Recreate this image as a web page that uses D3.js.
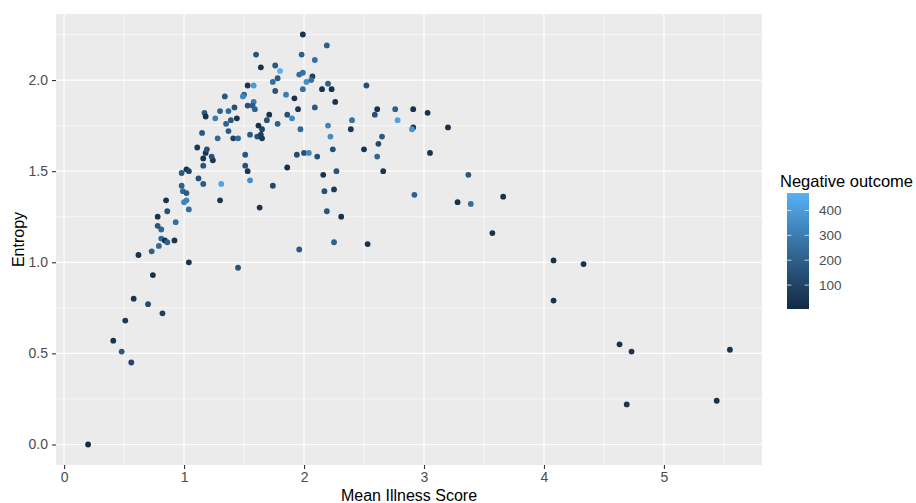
<!DOCTYPE html>
<html>
<head>
<meta charset="utf-8">
<script src="https://cdn.jsdelivr.net/npm/d3@7"></script>
<style>
  body { margin: 0; background: #fff; }
  text { font-family: "Liberation Sans", Arial, sans-serif; }
</style>
</head>
<body>
<div id="chart"></div>
<script>
// values
const illness = [0.20,0.41,0.48,0.56,0.51,0.58,0.70,0.82,0.74,0.62,
  0.73,0.79,0.81,0.84,0.86,0.92,0.81,0.78,0.78,0.93,
  0.86,0.85,1.04,1.45,0.98,1.02,1.04,1.12,1.16,0.98,
  0.99,1.02,1.00,1.02,1.04,1.31,1.30,1.16,1.16,1.24,
  1.23,1.18,1.19,1.11,1.15,1.28,1.37,1.41,1.45,1.35,
  1.26,1.17,1.18,1.30,1.37,1.39,1.42,1.44,1.34,1.51,
  1.51,1.53,1.55,1.63,1.74,1.55,1.61,1.65,1.64,1.65,
  1.62,1.69,1.71,1.78,1.53,1.58,1.57,1.59,1.50,1.49,
  1.53,1.58,1.60,1.64,1.76,1.80,1.78,1.74,1.76,1.85,
  1.92,1.86,1.90,1.95,1.97,1.86,1.94,2.00,2.04,2.11,
  1.99,2.19,1.98,2.09,1.96,1.99,2.07,2.02,2.06,2.20,
  2.15,2.23,1.99,2.26,2.09,2.20,2.22,2.40,2.39,2.52,
  2.61,2.59,2.76,2.78,2.91,3.03,2.91,2.90,3.20,2.65,
  2.62,2.50,2.61,2.66,3.05,2.24,2.16,2.27,2.25,2.17,
  2.19,2.31,1.96,2.25,2.53,2.92,3.37,3.28,3.39,3.66,
  3.57,4.08,4.33,4.08,4.63,4.73,5.55,4.69,5.44];

const entropy = [0.00,0.57,0.51,0.45,0.68,0.80,0.77,0.72,0.93,1.04,
  1.06,1.09,1.13,1.12,1.11,1.12,1.18,1.20,1.25,1.22,
  1.28,1.34,1.00,0.97,1.49,1.51,1.50,1.46,1.43,1.42,
  1.39,1.38,1.33,1.34,1.29,1.43,1.34,1.57,1.53,1.56,
  1.58,1.60,1.62,1.63,1.71,1.68,1.72,1.68,1.68,1.76,
  1.79,1.82,1.80,1.83,1.83,1.78,1.85,1.79,1.91,1.59,
  1.53,1.50,1.45,1.30,1.42,1.70,1.69,1.68,1.70,1.73,
  1.75,1.78,1.81,1.76,1.86,1.88,1.86,1.84,1.92,1.91,
  1.97,1.97,2.14,2.07,2.08,2.05,2.01,1.99,1.94,1.92,
  1.90,1.81,1.79,1.84,1.73,1.52,1.59,1.60,1.60,1.58,
  2.25,2.19,2.14,2.11,2.03,2.04,2.02,1.99,2.00,1.98,
  1.95,1.95,1.95,1.88,1.85,1.75,1.69,1.78,1.73,1.97,
  1.84,1.81,1.84,1.78,1.84,1.82,1.74,1.73,1.74,1.69,
  1.65,1.62,1.58,1.50,1.60,1.62,1.48,1.50,1.40,1.39,
  1.28,1.25,1.07,1.11,1.10,1.37,1.48,1.33,1.32,1.36,
  1.16,1.01,0.99,0.79,0.55,0.51,0.52,0.22,0.24];

const outcome = [4,30,170,120,60,40,130,80,30,30,
  200,230,230,30,200,40,220,170,40,250,
  150,40,30,160,180,40,100,150,180,200,
  230,180,330,320,250,430,50,30,160,40,
  150,40,150,60,170,230,180,90,230,200,
  300,180,40,200,230,170,150,40,170,170,
  150,50,360,40,120,180,150,60,80,100,
  30,150,40,200,150,300,180,200,200,330,
  40,400,160,30,170,470,180,250,160,300,
  30,150,330,50,230,30,130,150,330,150,
  30,200,200,260,250,260,80,360,260,200,
  30,30,250,40,180,330,350,260,60,150,
  40,150,200,420,30,30,30,380,30,180,
  120,40,230,50,30,150,40,160,60,150,
  170,30,180,200,30,200,170,30,250,30,
  30,30,30,30,30,40,30,40,30];

const xTicks = [0, 1, 2, 3, 4, 5];
const yTicks = [0, 0.5, 1, 1.5, 2];
const legendTicks = [100, 200, 300, 400];

const width = 916, height = 503;
const panel = {left: 56, right: 762, top: 14, bottom: 465};

const data = illness.map((d, i) => ({x: d, y: entropy[i], v: outcome[i]}));

const svg = d3.select("#chart").append("svg")
  .attr("width", width)
  .attr("height", height)
  .attr("viewBox", [0, 0, width, height]);

// ggplot style 5% expansion
function expand(ext) {
  const pad = (ext[1] - ext[0]) * 0.05;
  return [ext[0] - pad, ext[1] + pad];
}

const x = d3.scaleLinear()
  .domain(expand(d3.extent(illness)))
  .range([panel.left, panel.right]);

const y = d3.scaleLinear()
  .domain(expand(d3.extent(entropy)))
  .range([panel.bottom, panel.top]);

const colorExt = d3.extent(outcome);
const color = d3.scaleLinear()
  .domain(colorExt)
  .range(["#132B43", "#56B1F7"])
  .interpolate(d3.interpolateLab);

// panel background
svg.append("rect")
  .attr("x", panel.left)
  .attr("y", panel.top)
  .attr("width", panel.right - panel.left)
  .attr("height", panel.bottom - panel.top)
  .attr("fill", "#EBEBEB");

// minor grid
const xMinor = xTicks.map(d => d + 0.5).filter(d => x(d) < panel.right);
const yMinor = yTicks.map(d => d + 0.25).filter(d => y(d) > panel.top);

svg.append("g").selectAll("line")
  .data(xMinor)
  .join("line")
  .attr("x1", d => x(d)).attr("x2", d => x(d))
  .attr("y1", panel.top).attr("y2", panel.bottom)
  .attr("stroke", "#fff").attr("stroke-width", 0.6);

svg.append("g").selectAll("line")
  .data(yMinor)
  .join("line")
  .attr("y1", d => y(d)).attr("y2", d => y(d))
  .attr("x1", panel.left).attr("x2", panel.right)
  .attr("stroke", "#fff").attr("stroke-width", 0.6);

// major grid
svg.append("g").selectAll("line")
  .data(xTicks)
  .join("line")
  .attr("x1", d => x(d)).attr("x2", d => x(d))
  .attr("y1", panel.top).attr("y2", panel.bottom)
  .attr("stroke", "#fff").attr("stroke-width", 1.2);

svg.append("g").selectAll("line")
  .data(yTicks)
  .join("line")
  .attr("y1", d => y(d)).attr("y2", d => y(d))
  .attr("x1", panel.left).attr("x2", panel.right)
  .attr("stroke", "#fff").attr("stroke-width", 1.2);

// axes
const xAxis = svg.append("g")
  .attr("transform", `translate(0,${panel.bottom})`)
  .call(d3.axisBottom(x).tickValues(xTicks).tickSize(4).tickPadding(3).tickFormat(d3.format("d")));

const yAxis = svg.append("g")
  .attr("transform", `translate(${panel.left},0)`)
  .call(d3.axisLeft(y).tickValues(yTicks).tickSize(4).tickPadding(4).tickFormat(d3.format(".1f")));

[xAxis, yAxis].forEach(g => {
  g.select(".domain").remove();
  g.selectAll(".tick line").attr("stroke", "#333333").attr("stroke-width", 1.1);
  g.selectAll(".tick text")
    .attr("fill", "#4D4D4D")
    .style("font-size", "14px")
    .style("font-family", "'Liberation Sans', Arial, sans-serif");
});

// axis titles
svg.append("text")
  .attr("x", (panel.left + panel.right) / 2)
  .attr("y", 500.5)
  .attr("text-anchor", "middle")
  .attr("font-size", 16)
  .attr("fill", "#000")
  .text("Mean Illness Score");

svg.append("text")
  .attr("transform", `translate(24,${(panel.top + panel.bottom) / 2}) rotate(-90)`)
  .attr("text-anchor", "middle")
  .attr("font-size", 16)
  .attr("fill", "#000")
  .text("Entropy");

// points
svg.append("g").selectAll("circle")
  .data(data)
  .join("circle")
  .attr("cx", d => x(d.x))
  .attr("cy", d => y(d.y))
  .attr("r", 2.9)
  .attr("fill", d => color(d.v));

// legend: colourbar
const bar = {x: 787, w: 22, top: 193, bottom: 309};
const lg = d3.scaleLinear().domain(colorExt).range([bar.bottom, bar.top]);

const grad = svg.append("defs").append("linearGradient")
  .attr("id", "cbar")
  .attr("x1", 0).attr("x2", 0).attr("y1", 1).attr("y2", 0);

grad.selectAll("stop")
  .data(d3.range(0, 1.0001, 0.05))
  .join("stop")
  .attr("offset", d => d)
  .attr("stop-color", d => color(colorExt[0] + d * (colorExt[1] - colorExt[0])));

svg.append("text")
  .attr("x", 780)
  .attr("y", 187)
  .attr("font-size", 16.5)
  .attr("fill", "#000")
  .text("Negative outcome");

svg.append("rect")
  .attr("x", bar.x)
  .attr("y", bar.top)
  .attr("width", bar.w)
  .attr("height", bar.bottom - bar.top)
  .attr("fill", "url(#cbar)");

const lt = svg.append("g");
lt.selectAll("line.l")
  .data(legendTicks)
  .join("line")
  .attr("class", "l")
  .attr("x1", bar.x).attr("x2", bar.x + bar.w / 5)
  .attr("y1", d => lg(d)).attr("y2", d => lg(d))
  .attr("stroke", "#fff").attr("stroke-opacity", 0.7).attr("stroke-width", 1);
lt.selectAll("line.r")
  .data(legendTicks)
  .join("line")
  .attr("class", "r")
  .attr("x1", bar.x + bar.w * 4 / 5).attr("x2", bar.x + bar.w)
  .attr("y1", d => lg(d)).attr("y2", d => lg(d))
  .attr("stroke", "#fff").attr("stroke-opacity", 0.7).attr("stroke-width", 1);

lt.selectAll("text")
  .data(legendTicks)
  .join("text")
  .attr("x", bar.x + bar.w + 10)
  .attr("y", d => lg(d))
  .attr("dy", "0.35em")
  .attr("font-size", 13.5)
  .attr("fill", "#4D4D4D")
  .text(d => d);
</script>
</body>
</html>
